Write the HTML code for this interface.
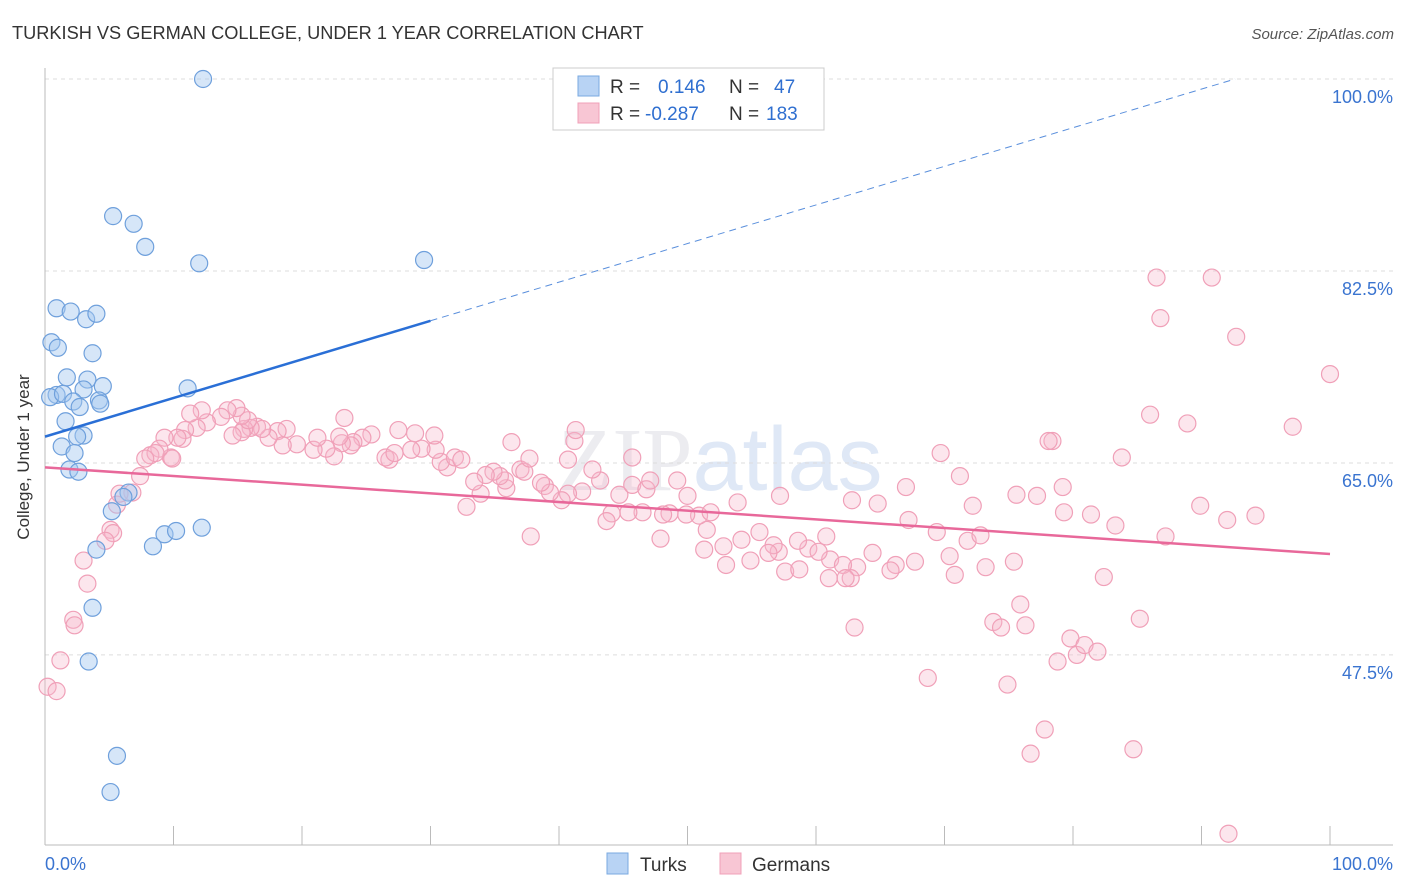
<!DOCTYPE html>
<html><head><meta charset="utf-8">
<style>
body{margin:0;background:#fff;font-family:"Liberation Sans",sans-serif;}
#wrap{position:relative;width:1406px;height:892px;overflow:hidden;}
</style></head>
<body>
<div id="wrap">
<svg id="svg" width="1406" height="892" xmlns="http://www.w3.org/2000/svg">
<text x="12" y="39" font-size="18.2" fill="#333">TURKISH VS GERMAN COLLEGE, UNDER 1 YEAR CORRELATION CHART</text>
<text x="1394" y="39" font-size="15" fill="#555" font-style="italic" text-anchor="end">Source: ZipAtlas.com</text>
<text x="720" y="490" font-size="90" fill="#ececf0" text-anchor="middle" font-family="Liberation Serif,serif">ZIP<tspan fill="#dfe8f6" font-family="Liberation Sans,sans-serif">atlas</tspan></text>
<g id="grid"></g>
<g id="axes"></g>
<g id="pts"></g>
<g id="trend"></g>
<text x="29" y="457" font-size="17" fill="#333" text-anchor="middle" transform="rotate(-90 29 457)">College, Under 1 year</text>
<g>
<rect x="553" y="68" width="271" height="62" fill="#fff" stroke="#ccc"/>
<rect x="578" y="76" width="21" height="20" fill="#b8d3f4" stroke="#7aaae0"/>
<rect x="578" y="103" width="21" height="20" fill="#f8c6d4" stroke="#f0a0b8"/>
<text x="610" y="93" font-size="19" fill="#333">R = <tspan x="658" fill="#2f6fd0">0.146</tspan><tspan x="729" fill="#333">N = </tspan><tspan x="774" fill="#2f6fd0">47</tspan></text>
<text x="610" y="120" font-size="19" fill="#333">R = <tspan x="645" fill="#2f6fd0">-0.287</tspan><tspan x="729" fill="#333">N = </tspan><tspan x="766" fill="#2f6fd0">183</tspan></text>
</g>
<rect x="607" y="853" width="21" height="21" fill="#b8d3f4" stroke="#7aaae0"/>
<text x="640" y="871" font-size="19" fill="#333">Turks</text>
<rect x="720" y="853" width="21" height="21" fill="#f8c6d4" stroke="#f0a0b8"/>
<text x="752" y="871" font-size="19" fill="#333">Germans</text>
</svg>
</div>
<script>
const turksX=[12.3,5.3,6.9,7.8,12.0,29.5,0.9,2.0,3.2,4.0,0.5,1.0,3.7,1.7,3.3,4.5,11.1,3.0,0.9,0.4,1.4,2.2,4.2,4.3,2.7,1.6,3.0,2.5,1.3,2.3,1.9,2.6,6.5,6.1,5.2,4.0,9.3,10.2,12.2,8.4,3.7,3.4,5.6,5.1];
const turksY=[100,87.5,86.8,84.7,83.2,83.5,79.1,78.8,78.1,78.6,76.0,75.5,75.0,72.8,72.6,72.0,71.8,71.7,71.2,71.0,71.3,70.6,70.7,70.4,70.1,68.8,67.5,67.4,66.5,65.9,64.4,64.2,62.3,61.9,60.6,57.1,58.5,58.8,59.1,57.4,51.8,46.9,38.3,35.0];
const germX=[86.5,90.8,86.8,92.7,100,86.0,88.9,97.1,78.4,83.8,69.7,71.2,79.2,75.6,77.2,72.2,81.4,83.3,89.9,94.2,92.0,87.2,67.0,62.8,64.8,67.2,69.4,71.8,72.8,70.4,70.8,73.2,67.7,66.2,65.8,64.4,63.2,62.7,60.8,61.1,62.1,59.4,58.6,60.2,57.1,56.7,57.6,58.7,61.0,62.3,55.6,54.2,52.8,53.0,54.9,56.3,51.3,51.5,50.9,49.9,47.9,48.6,50.0,53.9,57.2,51.8,48.1,46.5,45.4,44.1,43.7,44.7,43.2,45.7,46.8,47.1,49.2,45.7,42.6,41.8,40.7,40.7,41.2,40.2,38.9,39.3,38.6,37.0,37.3,35.9,35.8,35.4,34.9,34.3,33.9,32.8,33.4,31.3,30.8,31.9,32.4,30.4,29.3,30.3,28.8,28.5,26.8,26.5,27.2,27.5,25.4,24.7,24.0,23.8,23.1,22.9,22.5,21.9,20.9,21.2,19.6,18.8,18.1,18.5,17.4,16.5,16.9,16.0,15.5,15.3,14.6,15.8,15.3,14.9,14.2,13.7,12.6,12.2,11.8,10.9,11.3,10.7,9.8,10.3,9.3,8.9,8.2,9.9,8.6,7.8,6.8,7.4,5.6,5.8,5.1,5.3,4.7,3.0,3.3,2.2,2.3,1.2,0.2,0.9,23.3,36.3,37.8,41.3,37.7,63.0,68.7,73.8,74.4,75.9,76.3,74.9,78.8,79.8,80.3,80.9,81.9,82.4,85.2,77.8,76.7,84.7,92.1,75.4,78.1,79.3];
const germY=[81.9,81.9,78.2,76.5,73.1,69.4,68.6,68.3,67.0,65.5,65.9,63.8,62.8,62.1,62.0,61.1,60.3,59.3,61.1,60.2,59.8,58.3,62.8,61.6,61.3,59.8,58.7,57.9,58.4,56.5,54.8,55.5,56.0,55.7,55.2,56.8,55.5,54.5,58.3,56.2,55.7,57.2,57.9,56.9,56.9,57.5,55.1,55.3,54.5,54.5,58.7,58.0,57.4,55.7,56.1,56.8,57.1,58.9,60.2,60.3,58.1,60.4,62.0,61.4,62.0,60.5,60.3,60.5,60.5,60.4,59.7,62.1,63.4,63.0,62.6,63.4,63.4,65.5,64.4,62.4,65.3,62.2,67.0,61.6,62.9,62.3,63.2,64.4,64.2,62.7,63.4,63.8,64.2,63.9,62.2,61.0,63.3,64.6,65.1,65.5,65.3,66.2,66.3,67.5,67.7,66.2,65.3,65.5,65.9,68.0,67.6,67.3,66.9,66.6,66.8,67.4,65.6,66.3,66.2,67.3,66.7,68.1,67.9,66.6,67.3,68.3,68.1,68.2,68.1,67.8,67.5,68.9,69.3,70.0,69.8,69.2,68.7,69.8,68.2,68.0,69.5,67.2,65.5,67.3,67.3,66.3,65.7,65.4,65.9,65.4,62.3,63.8,61.2,62.2,58.9,58.6,57.9,56.1,54.0,50.7,50.2,47.0,44.6,44.2,69.1,66.9,58.3,68.0,65.4,50.0,45.4,50.5,50.0,52.1,50.2,44.8,46.9,49.0,47.5,48.4,47.8,54.6,50.8,40.7,38.5,38.9,31.2,56.0,67.0,60.5];
const turksTrend=[67.4,0.352]; // intercept, slope
const germTrend=[64.6,-0.079];
const yTicks=[100,82.5,65,47.5];
const yTickLabels=["100.0%","82.5%","65.0%","47.5%"];
const xLabels=["0.0%","100.0%"];

const NS="http://www.w3.org/2000/svg";
const X=v=>45+v*12.85, Y=v=>79+(100-v)*10.97;
function mk(t,a,p){const e=document.createElementNS(NS,t);for(const k in a)e.setAttribute(k,a[k]);p.appendChild(e);return e;}
const grid=document.getElementById('grid'),axes=document.getElementById('axes'),pts=document.getElementById('pts'),trend=document.getElementById('trend');
yTicks.forEach((v,i)=>{
 const l=mk('line',{x1:45,x2:1393,y1:Y(v),y2:Y(v),stroke:'#ddd','stroke-dasharray':'4 4'},grid);
 
 
 const t=mk('text',{x:1393,y:Y(v)+24,'font-size':18,fill:'#3a74d0','text-anchor':'end'},axes);
 t.textContent=yTickLabels[i];
 
 
});
const ax=mk('line',{x1:45,x2:45,y1:68,y2:845,stroke:'#bbb'},axes);


const bx=mk('line',{x1:45,x2:1393,y1:845,y2:845,stroke:'#bbb'},axes);


for(let i=0;i<=10;i++){
 const tk=mk('line',{x1:X(i*10),x2:X(i*10),y1:826,y2:845,stroke:'#bbb'},axes);
 
 
}
[[0,'start',45],[1,'end',1393]].forEach(([i,a,x])=>{
 const t=mk('text',{x:x,y:870,'font-size':18,fill:'#3a74d0','text-anchor':a},axes);
 t.textContent=xLabels[i];
 
 
});
germX.forEach((x,i)=>{
 const c=mk('circle',{cx:X(x),cy:Y(germY[i]),r:8.5,fill:'rgba(246,182,202,0.35)',stroke:'#f0a0b8','stroke-width':1.2},pts);
 
 
});
turksX.forEach((x,i)=>{
 const c=mk('circle',{cx:X(x),cy:Y(turksY[i]),r:8.5,fill:'rgba(164,199,240,0.45)',stroke:'#6fa0dc','stroke-width':1.2},pts);
 
 
});
const tf=x=>turksTrend[0]+turksTrend[1]*x, gf=x=>germTrend[0]+germTrend[1]*x;
const xEnd=(100-turksTrend[0])/turksTrend[1];
let l1=mk('line',{x1:X(0),y1:Y(tf(0)),x2:X(30),y2:Y(tf(30)),stroke:'#2a6fd6','stroke-width':2.5},trend);


let l2=mk('line',{x1:X(30),y1:Y(tf(30)),x2:X(xEnd),y2:Y(tf(xEnd)),stroke:'#5a8fdc','stroke-width':1,'stroke-dasharray':'7 5'},trend);


let l3=mk('line',{x1:X(0),y1:Y(gf(0)),x2:X(100),y2:Y(gf(100)),stroke:'#e8689a','stroke-width':2.5},trend);


</script>
</body></html>
